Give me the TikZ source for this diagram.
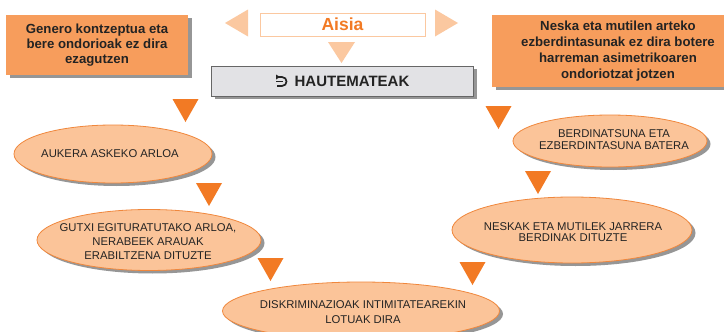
\documentclass[tikz,border=0pt]{standalone}
\usepackage{fontspec}
\setmainfont{Liberation Sans}
\usetikzlibrary{shapes.geometric,shadows}
\definecolor{boxor}{RGB}{247,157,92}
\definecolor{ellfill}{RGB}{251,196,153}
\definecolor{ellline}{RGB}{240,135,60}
\definecolor{darkor}{RGB}{242,122,36}
\definecolor{lightor}{RGB}{251,200,160}
\definecolor{shadowgray}{RGB}{150,150,150}
\definecolor{txt}{RGB}{35,35,35}
\definecolor{graybox}{RGB}{226,226,229}
\tikzset{
  shad/.style={drop shadow={shadow xshift=3.5pt,shadow yshift=-3pt,fill=shadowgray,opacity=1}},
  orbox/.style={rectangle,fill=boxor,shad,inner sep=0pt,align=center,text=txt,
    font=\fontsize{13.2}{15}\selectfont\bfseries},
  ell/.style={ellipse,fill=ellfill,draw=ellline,line width=0.8pt,shad,inner sep=0pt},
  etext/.style={align=center,text=txt,inner sep=0pt},
  dtri/.style={fill=darkor},
  ltri/.style={fill=lightor}
}
\newcommand\downtri[2]{\fill[dtri] ({#1-13},#2) -- ({#1+13},#2) -- (#1,{#2+23}) -- cycle;}
\begin{document}
\begin{tikzpicture}[x=1pt,y=-1pt]
\useasboundingbox[fill=white] (0,0) rectangle (724,332);

% top boxes
\node[orbox,minimum width=182pt,minimum height=60pt] (lbox) at (97,45)
  {Genero kontzeptua eta\\bere ondorioak ez dira\\ezagutzen};
\node[orbox,minimum width=232pt,minimum height=72pt] (rbox) at (608,51) {};
\node[etext,font=\fontsize{13.2}{16}\selectfont\bfseries]
  (rtext) at (618,51) {Neska eta mutilen arteko\\ezberdintasunak ez dira botere\\harreman asimetrikoaren\\ondoriotzat jotzen};

% Aisia
\fill[ltri] (225,23) -- (248,9.5) -- (248,36.5) -- cycle;
\fill[ltri] (458,23) -- (435,9.5) -- (435,36.5) -- cycle;
\node[rectangle,draw=lightor,line width=1pt,fill=white,minimum width=165pt,minimum height=23pt,
  inner sep=0pt,text=darkor,font=\fontsize{17.5}{20}\selectfont\bfseries] (aisia) at (342.5,24.5) {Aisia};
\fill[ltri] (328,42) -- (355,42) -- (341.5,63) -- cycle;

% HAUTEMATEAK
\node[rectangle,fill=graybox,draw=black!60,line width=0.6pt,shad,minimum width=262pt,minimum height=30pt,
  inner sep=0pt] (haut) at (342.5,81) {};
\node[text=txt,font=\fontsize{15}{17}\selectfont\bfseries,inner sep=0pt] (hauttext) at (352,81.5) {HAUTEMATEAK};
\draw[txt,line width=1.7pt] (278.5,77) -- (282,77) .. controls (288,77) and (288,86) .. (282,86) -- (277,86);
\draw[txt,line width=1.7pt] (276,81.5) -- (283,81.5);
\fill[txt] (276,74.5) -- (280,77) -- (276,79.5) -- cycle;

% ellipses
\node[ell,minimum width=198pt,minimum height=58pt] (e1) at (113,154) {};
\node[etext,font=\fontsize{11.3}{13}\selectfont] (t1) at (110,153.5) {AUKERA ASKEKO ARLOA};
\node[ell,minimum width=224pt,minimum height=61pt] (e2) at (149,240) {};
\node[etext,font=\fontsize{11.3}{14}\selectfont] (t2) at (148,242) {GUTXI EGITURATUTAKO ARLOA,\\NERABEEK ARAUAK\\ERABILTZENA DITUZTE};
\node[ell,minimum width=277pt,minimum height=58pt] (e3) at (361,311) {};
\node[etext,font=\fontsize{11.3}{14.3}\selectfont] (t3) at (363,312) {DISKRIMINAZIOAK INTIMITATEAREKIN\\LOTUAK DIRA};
\node[ell,minimum width=194pt,minimum height=52pt] (e4) at (610,141) {};
\node[etext,font=\fontsize{11.3}{12}\selectfont] (t4) at (614,139.5) {BERDINATSUNA ETA\\EZBERDINTASUNA BATERA};
\node[ell,minimum width=240pt,minimum height=66pt] (e5) at (572,230) {};
\node[etext,font=\fontsize{11.3}{11.5}\selectfont] (t5) at (573,232) {NESKAK ETA MUTILEK JARRERA\\BERDINAK DITUZTE};

% dark triangles
\downtri{185.5}{99}
\downtri{209}{183}
\downtri{270.5}{258}
\downtri{472.5}{262}
\downtri{498.5}{106}
\downtri{538}{171}
\end{tikzpicture}
\end{document}
